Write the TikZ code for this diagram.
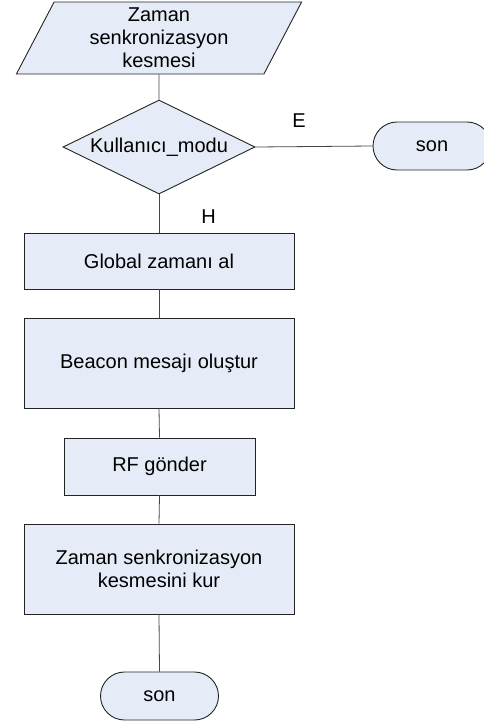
\documentclass[tikz,border=0pt]{standalone}
\usepackage{fontspec}
\setmainfont{Liberation Sans}
\usetikzlibrary{shapes.geometric,shapes.misc}
\definecolor{boxfill}{RGB}{230,236,247}
\definecolor{boxline}{RGB}{35,35,35}
\definecolor{wire}{RGB}{70,70,70}
\begin{document}
\begin{tikzpicture}[x=1pt,y=-1pt,
  every node/.style={font=\fontsize{20}{23}\selectfont, text=black},
  base/.style={draw=boxline, fill=boxfill, line width=0.9pt, inner sep=0pt, align=center},
  process/.style={base, rectangle, minimum width=270pt},
  iobox/.style={base, trapezium, trapezium left angle=67.4, trapezium right angle=112.6,
    trapezium stretches=true, minimum width=286pt, minimum height=72pt},
  decision/.style={base, diamond, aspect=2.04, minimum width=192pt, minimum height=94pt},
  terminal/.style={base, rounded rectangle, minimum width=118pt, minimum height=48pt},
  wireline/.style={draw=wire, line width=0.8pt},
  lbl/.style={inner sep=0pt}
]
\useasboundingbox (0,0) rectangle (484,726);

% flow shapes
\node[iobox] (start) at (159,38) {Zaman\\senkronizasyon\\kesmesi};
\node[decision] (mode) at (159,147) {Kullanıcı\_modu};
\node[terminal] (endA) at (432,146) {son};
\node[process, minimum height=56pt] (gtime) at (159,261) {Global zamanı al};
\node[process, minimum height=90pt] (beacon) at (159,363) {Beacon mesajı oluştur};
\node[base, rectangle, minimum width=191pt, minimum height=57pt] (rf) at (159.5,466.5) {RF gönder};
\node[process, minimum height=90pt] (sync) at (159,569) {Zaman senkronizasyon\\kesmesini kur};
\node[terminal] (endB) at (159.5,696) {son};

% branch labels
\node[lbl] (yes) at (299,121) {E};
\node[lbl] (no) at (208.5,216.5) {H};

% connectors
\draw[wireline] (start.south) -- (mode.north);
\draw[wireline] (mode.east) -- (endA.west);
\draw[wireline] (mode.south) -- (gtime.north);
\draw[wireline] (gtime.south) -- (beacon.north);
\draw[wireline] (beacon.south) -- (rf.north);
\draw[wireline] (rf.south) -- (sync.north);
\draw[wireline] (sync.south) -- (endB.north);
\end{tikzpicture}
\end{document}
